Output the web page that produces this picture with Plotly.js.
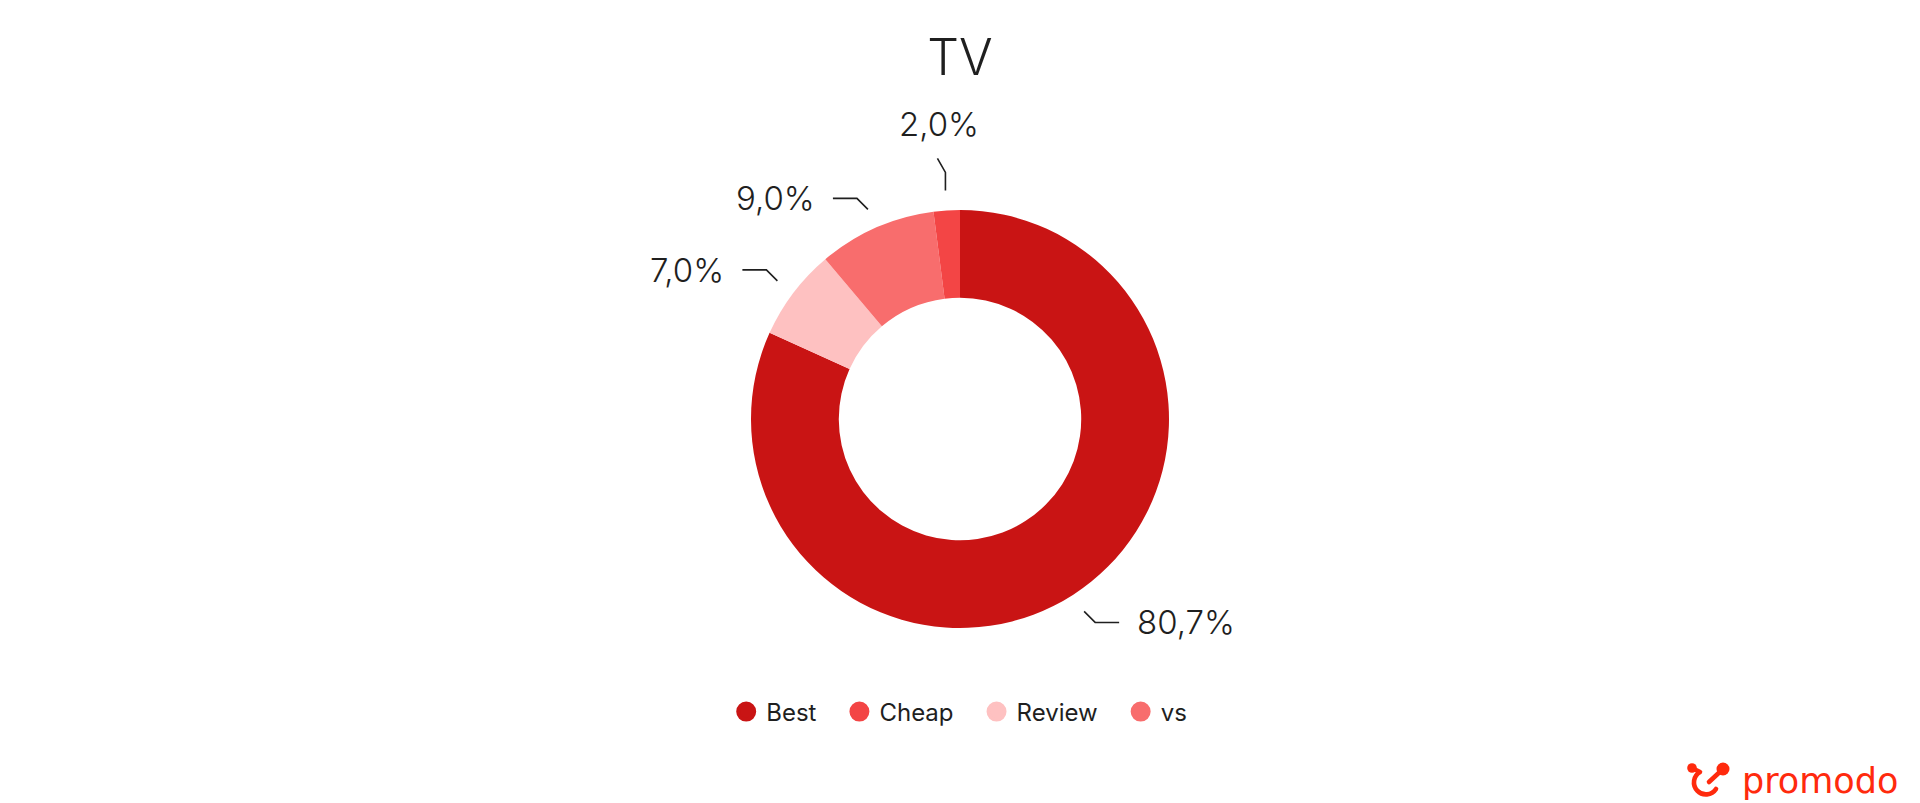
<!DOCTYPE html>
<html><head><meta charset="utf-8">
<script src="https://cdn.plot.ly/plotly-3.0.1.min.js"></script>
<style>html,body{margin:0;padding:0;background:#fff;}#chart{width:1920px;height:803px;}</style>
</head><body><div id="chart"></div>
<script>
// ---- data ----
const chartTitle = 'TV';
const categories = ['Best', 'Cheap', 'Review', 'vs'];
const values = [80.7, 2.0, 7.0, 9.0];
const colors = ['#C91414', '#F34545', '#FEC1C1', '#F86D6D'];
const sliceOrder = ['Best', 'Review', 'vs', 'Cheap'];
const brandName = 'promodo';

// ---- layout geometry ----
const W = 1920, H = 803, M = {l: 0, r: 0, t: 210, b: 175};
const PW = W - M.l - M.r, PH = H - M.t - M.b;
const R = Math.min(PW, PH) / 2, CX = M.l + PW / 2, CY = M.t + PH / 2;
const px2x = p => (p - M.l) / PW, py2y = p => 1 - (p - M.t) / PH;

const idx = sliceOrder.map(n => categories.indexOf(n));
const pieLabels = idx.map(i => categories[i]);
const pieValues = idx.map(i => values[i]);
const pieColors = idx.map(i => colors[i]);
const total = pieValues.reduce((a, b) => a + b, 0);
const fmt = v => v.toFixed(1).replace('.', ',') + '%';

const textColor = '#1f1f1f';
const shapes = [], annotations = [];
let cum = 0;
pieValues.forEach((v, k) => {
  const mid = (cum + v / 2) / total * 2 * Math.PI;
  cum += v;
  const ux = Math.sin(mid), uy = -Math.cos(mid);
  const ax = CX + (R + 20) * ux, ay = CY + (R + 20) * uy;
  const sx = ux < 0 ? -1 : 1, sy = uy < 0 ? -1 : 1;
  let pts, ann;
  if (Math.abs(ux) < 0.3) {
    const bx = ax, by = ay + 18 * sy;
    const cx = bx + 8 * sx, cy = by + 14 * sy;
    pts = [[ax, ay], [bx, by], [cx, cy]];
    ann = {x: px2x(cx - 2 * sx), y: py2y(cy + 12 * sy), xanchor: 'center', yanchor: sy < 0 ? 'bottom' : 'top'};
  } else {
    const bx = ax + 11 * sx, by = ay + 11 * sy;
    const cx = bx + 24 * sx, cy = by;
    pts = [[ax, ay], [bx, by], [cx, cy]];
    ann = {x: px2x(cx + 16 * sx), y: py2y(cy), xanchor: sx < 0 ? 'right' : 'left', yanchor: 'middle'};
  }
  shapes.push({
    type: 'path', xref: 'paper', yref: 'paper',
    path: 'M ' + pts.map(p => px2x(p[0]) + ',' + py2y(p[1])).join(' L '),
    line: {color: textColor, width: 1.6}
  });
  annotations.push(Object.assign(ann, {
    xref: 'paper', yref: 'paper', showarrow: false, text: fmt(v),
    font: {family: 'Inter, Lato, sans-serif', size: 33, weight: 300, color: textColor}
  }));
});

// brand text
annotations.push({
  xref: 'paper', yref: 'paper', x: px2x(1740), y: py2y(781), xanchor: 'left', yanchor: 'middle',
  showarrow: false, text: brandName,
  font: {family: 'DejaVu Sans, sans-serif', size: 35, weight: 400, color: '#FF2A0D'}
});

const logoSvg = "<svg xmlns='http://www.w3.org/2000/svg' viewBox='0 0 60 48'>" +
  "<g fill='none' stroke='#FF2A0D' stroke-width='4.6' stroke-linecap='round' stroke-linejoin='round'>" +
  "<path d='M12 13 L20 17 A12 12 0 1 0 36 34'/>" +
  "<path d='M43 14 L29 27'/>" +
  "</g><circle cx='12' cy='13' r='4.8' fill='#FF2A0D'/><circle cx='43' cy='14' r='6.5' fill='#FF2A0D'/></svg>";

// ---- legend: one small legend per category, spaced from measured text widths ----
const legendFont = {family: 'Inter, sans-serif', size: 24, color: textColor};
const ctx = document.createElement('canvas').getContext('2d');
ctx.font = '24px Inter';
const tw = categories.map(c => ctx.measureText(c).width);
const markerR = 10, textOff = 19, itemGapPx = 44;
const pitch = tw.map(w => textOff + w + itemGapPx);
const span = 2 * markerR / 2 + pitch.slice(0, -1).reduce((a, b) => a + b, 0) + textOff + tw[tw.length - 1] + markerR;
let mx = CX - span / 2 + markerR;
const legendY = py2y(712);
const legendKeys = categories.map((c, i) => i === 0 ? 'legend' : 'legend' + (i + 1));
const legends = {};
categories.forEach((c, i) => {
  legends[legendKeys[i]] = {orientation: 'h', x: px2x(mx - 14), xanchor: 'left', y: legendY, yanchor: 'middle',
    font: legendFont, itemclick: false, bgcolor: 'rgba(0,0,0,0)'};
  mx += pitch[i];
});

const pieTrace = {
  type: 'pie', labels: pieLabels, values: pieValues, sort: false, direction: 'clockwise', rotation: 0,
  hole: 0.58, marker: {colors: pieColors, line: {width: 0}}, textinfo: 'none', showlegend: false,
  hovertemplate: '%{label}: %{value}<extra></extra>'
};
const legendTraces = categories.map((c, i) => ({
  type: 'scatter', mode: 'markers', x: [null], y: [null], name: c, legend: legendKeys[i],
  marker: {size: 16, color: colors[i], symbol: 'circle', line: {width: 4, color: colors[i]}}, hoverinfo: 'skip'
}));

const layout = Object.assign({
  width: W, height: H, margin: M, paper_bgcolor: '#fff', plot_bgcolor: '#fff',
  title: {text: chartTitle, x: 0.5, xanchor: 'center', yref: 'container', y: 1 - 57 / H, yanchor: 'middle',
    font: {family: 'Inter, sans-serif', size: 50, weight: 300, color: textColor}},
  xaxis: {visible: false}, yaxis: {visible: false},
  showlegend: true,
  shapes: shapes, annotations: annotations,
  images: [{source: 'data:image/svg+xml;utf8,' + encodeURIComponent(logoSvg), xref: 'paper', yref: 'paper',
    x: px2x(1680), y: py2y(755), sizex: 60 / PW, sizey: 48 / PH, xanchor: 'left', yanchor: 'top', sizing: 'stretch'}]
}, legends);

Plotly.newPlot('chart', [pieTrace].concat(legendTraces), layout, {displayModeBar: false, staticPlot: true});
</script></body></html>
